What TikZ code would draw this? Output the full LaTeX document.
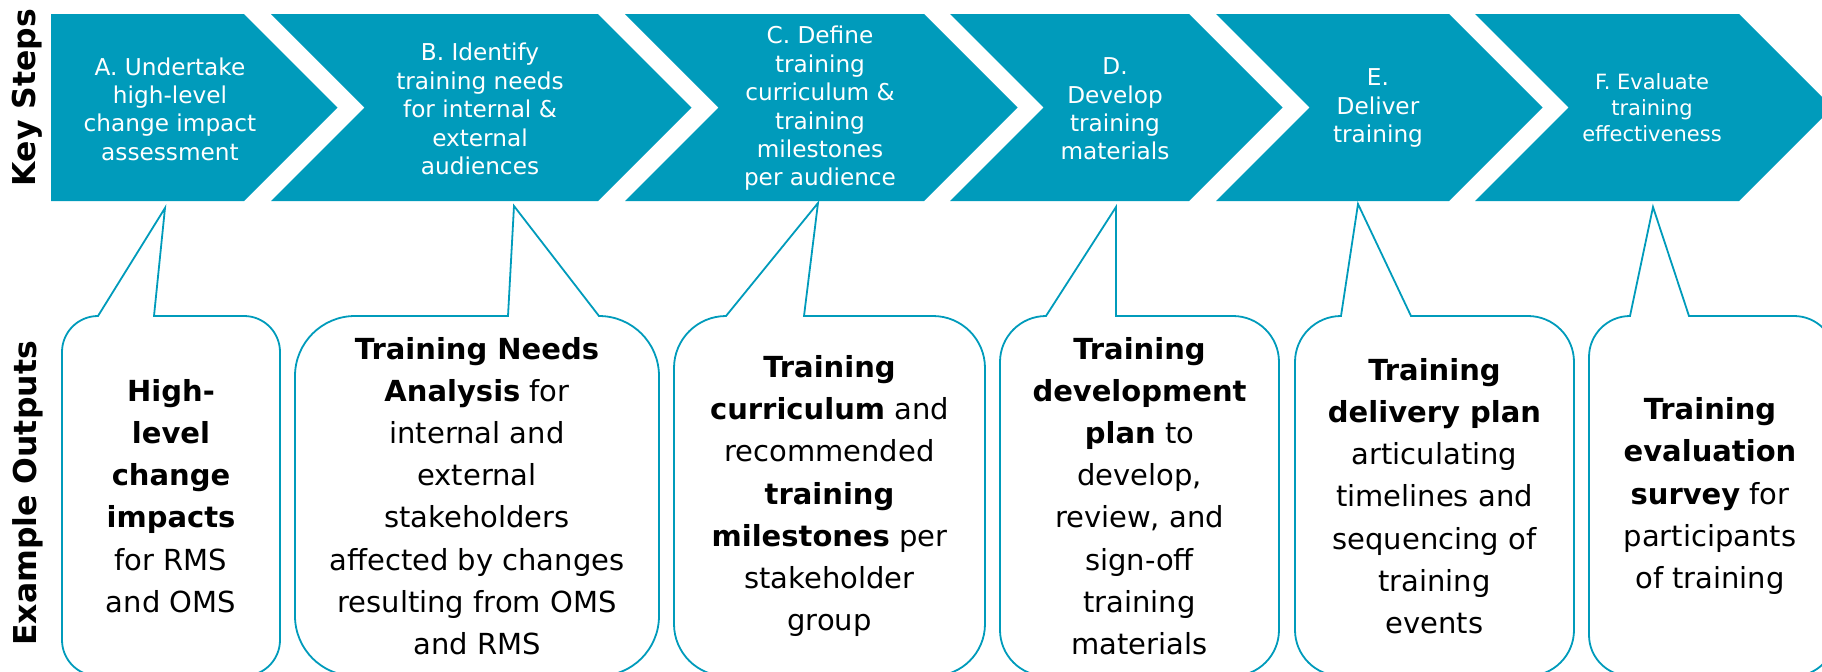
\documentclass[tikz,border=0pt]{standalone}
\usepackage{fontspec}
\setmainfont{DejaVu Sans}
\definecolor{stepteal}{RGB}{0,155,187}

\begin{document}
\begin{tikzpicture}[x=0.5pt,y=-0.5pt,
  stepshape/.style={fill=stepteal},
  bubble/.style={draw=stepteal,line width=0.9pt,fill=white},
  steptext/.style={text=white,align=center,font=\fontsize{11.6}{14.2}\selectfont},
  outtext/.style={align=center,font=\fontsize{14.5}{21.1}\selectfont},
  sidelabel/.style={rotate=90,font=\fontsize{15.75}{18}\selectfont\bfseries}]
\useasboundingbox (0,0) rectangle (1822,671);

% Side labels
\node[sidelabel] (keylbl) at (27.5,97.5) {Key Steps};
\node[sidelabel] (outlbl) at (27.5,493.5) {Example Outputs};

% Key steps (chevrons)
\fill[stepshape] (51,14) -- (244,14) -- (337.5,107.5) -- (244,201) -- (51,201) -- cycle;
\fill[stepshape] (271,14) -- (598,14) -- (691.5,107.5) -- (598,201) -- (271,201) -- (364.5,107.5) -- cycle;
\fill[stepshape] (625,14) -- (924,14) -- (1017.5,107.5) -- (924,201) -- (625,201) -- (718.5,107.5) -- cycle;
\fill[stepshape] (950,14) -- (1189,14) -- (1282.5,107.5) -- (1189,201) -- (950,201) -- (1043.5,107.5) -- cycle;
\fill[stepshape] (1216,14) -- (1449,14) -- (1542.5,107.5) -- (1449,201) -- (1216,201) -- (1309.5,107.5) -- cycle;
\fill[stepshape] (1475,14) -- (1739,14) -- (1832.5,107.5) -- (1739,201) -- (1475,201) -- (1568.5,107.5) -- cycle;

\node[steptext] (stepA) at (170,109) {A. Undertake\\high-level\\change impact\\assessment};
\node[steptext] (stepB) at (480,109) {B. Identify\\training needs\\for internal \&\\external\\audiences};
\node[steptext] (stepC) at (820,108.5) {C. Define\\training\\curriculum \&\\training\\milestones\\per audience};
\node[steptext] (stepD) at (1115,109) {D.\\Develop\\training\\materials};
\node[steptext] (stepE) at (1378,108) {E.\\Deliver\\training};
\node[steptext,font=\fontsize{10.5}{13}\selectfont] (stepF) at (1652,108) {F. Evaluate\\training\\effectiveness};

% Example outputs (callouts)
\draw[bubble] (62,352) arc[start angle=180,end angle=270,radius=36] -- (98,316) -- (165,208) -- (154,316) -- (244,316)
  arc[start angle=270,end angle=360,radius=36] -- (280,640) arc[start angle=0,end angle=90,radius=36] -- (98,676)
  arc[start angle=90,end angle=180,radius=36] -- cycle;
\draw[bubble] (295,376) arc[start angle=180,end angle=270,radius=60] -- (508,316) -- (514,206) -- (599,316)
  arc[start angle=270,end angle=360,radius=60] -- (659,616) arc[start angle=0,end angle=90,radius=60] -- (355,676)
  arc[start angle=90,end angle=180,radius=60] -- cycle;
\draw[bubble] (674,368) arc[start angle=180,end angle=270,radius=52] -- (818,203) -- (804,316) -- (933,316)
  arc[start angle=270,end angle=360,radius=52] -- (985,624) arc[start angle=0,end angle=90,radius=52] -- (726,676)
  arc[start angle=90,end angle=180,radius=52] -- cycle;
\draw[bubble] (1000,362) arc[start angle=180,end angle=270,radius=46] -- (1116,207) -- (1116,316) -- (1233,316)
  arc[start angle=270,end angle=360,radius=46] -- (1279,630) arc[start angle=0,end angle=90,radius=46] -- (1046,676)
  arc[start angle=90,end angle=180,radius=46] -- cycle;
\draw[bubble] (1295,362) arc[start angle=180,end angle=270,radius=46] -- (1358,204) -- (1411,316) -- (1528,316)
  arc[start angle=270,end angle=360,radius=46] -- (1574,630) arc[start angle=0,end angle=90,radius=46] -- (1341,676)
  arc[start angle=90,end angle=180,radius=46] -- cycle;
\draw[bubble] (1589,357) arc[start angle=180,end angle=270,radius=41] -- (1653,207) -- (1689,316) -- (1794,316)
  arc[start angle=270,end angle=360,radius=41] -- (1835,635) arc[start angle=0,end angle=90,radius=41] -- (1630,676)
  arc[start angle=90,end angle=180,radius=41] -- cycle;

\node[outtext] (outA) at (171,496) {\textbf{High-}\\\textbf{level}\\\textbf{change}\\\textbf{impacts}\\for RMS\\and OMS};
\node[outtext] (outB) at (477,496) {\textbf{Training Needs}\\\textbf{Analysis} for\\internal and\\external\\stakeholders\\affected by changes\\resulting from OMS\\and RMS};
\node[outtext] (outC) at (829.5,496) {\textbf{Training}\\\textbf{curriculum} and\\recommended\\\textbf{training}\\\textbf{milestones} per\\stakeholder\\group};
\node[outtext] (outD) at (1139.5,496) {\textbf{Training}\\\textbf{development}\\\textbf{plan} to\\develop,\\review, and\\sign-off\\training\\materials};
\node[outtext] (outE) at (1434.5,496) {\textbf{Training}\\\textbf{delivery plan}\\articulating\\timelines and\\sequencing of\\training\\events};
\node[outtext] (outF) at (1710,496) {\textbf{Training}\\\textbf{evaluation}\\\textbf{survey} for\\participants\\of training};
\end{tikzpicture}
\end{document}
